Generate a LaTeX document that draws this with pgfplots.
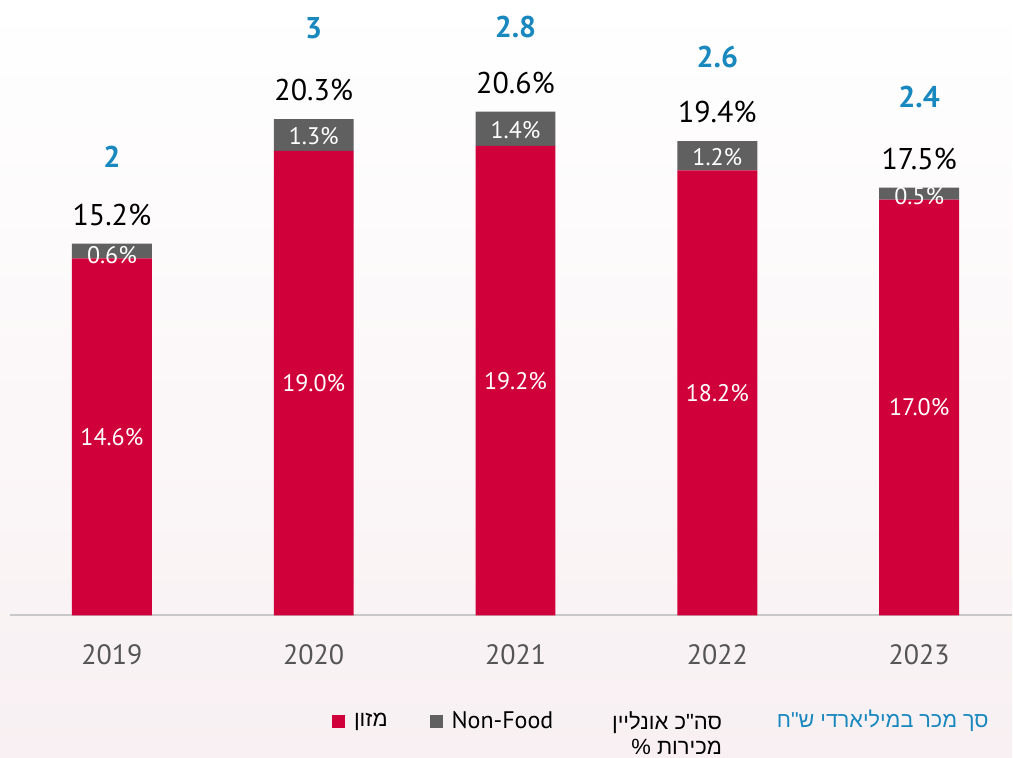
\documentclass[border=0pt]{standalone}
\usepackage{fontspec}
\setmainfont{PT Sans}
\newfontfamily\hebfont[Script=Hebrew]{Liberation Sans}
\usepackage{pgfplots}
\pgfplotsset{compat=1.18}
\TeXXeTstate=1

\definecolor{food}{RGB}{208,0,58}
\definecolor{nonfood}{RGB}{96,96,96}
\definecolor{sales}{RGB}{24,136,190}
\definecolor{ticktext}{RGB}{85,85,85}
\definecolor{baseline}{RGB}{200,200,200}

\tikzset{
  inlbl/.style={text=white, font=\fontsize{12}{15}\selectfont},
  totlbl/.style={text=black, font=\fontsize{15}{18}\selectfont, yshift=14.5pt},
  saleslbl/.style={text=sales, font=\fontsize{15}{18}\selectfont\bfseries},
}

\begin{document}
\begin{tikzpicture}
\shade[top color=white, bottom color={rgb,255:red,248;green,240;blue,242}]
  (0,0) rectangle (506.5pt,379pt);
\begin{axis}[
  at={(5pt,71pt)}, anchor=south west,
  scale only axis,
  width=501.5pt, height=308pt,
  xmin=-0.505, xmax=4.46,
  ymin=0, ymax=25.17,
  ybar stacked, bar width=40pt,
  axis x line=bottom, axis y line=none,
  axis line style={draw=baseline, line width=1pt, -},
  xtick=data, xticklabels={2019,2020,2021,2022,2023},
  major tick length=0pt,
  xticklabel style={font=\fontsize{14}{17}\selectfont, text=ticktext, yshift=-11pt},
  clip=false,
  legend columns=2,
  legend style={at={(0.321,-0.172)}, anchor=west, draw=none, fill=none,
    font=\fontsize{12}{15}\selectfont, inner xsep=0pt,
    /tikz/every odd column/.append style={column sep=2.5pt},
    /tikz/every even column/.append style={column sep=19pt}},
  legend image code/.code={\fill[#1,draw=none] (0pt,-3.3pt) rectangle (6.5pt,3.3pt);},
]
% food share of sales (%)
\addplot[fill=food, draw=none] coordinates {(0,14.6) (1,19.0) (2,19.2) (3,18.2) (4,17.0)};
\addlegendentry{\hebfont\fontsize{11}{14}\selectfont\beginR מזון\endR}
% non-food share of sales (%)
\addplot[fill=nonfood, draw=none] coordinates {(0,0.6) (1,1.3) (2,1.4) (3,1.2) (4,0.5)};
\addlegendentry{Non-Food}

% anchors for the labels inside the bars (drawn after the axis)
\coordinate (f0) at (axis cs:0,7.3);
\coordinate (f1) at (axis cs:1,9.5);
\coordinate (f2) at (axis cs:2,9.6);
\coordinate (f3) at (axis cs:3,9.1);
\coordinate (f4) at (axis cs:4,8.5);
\coordinate (n0) at (axis cs:0,14.75);
\coordinate (n1) at (axis cs:1,19.6);
\coordinate (n2) at (axis cs:2,19.85);
\coordinate (n3) at (axis cs:3,18.75);
\coordinate (n4) at (axis cs:4,17.15);

% totals
\node[totlbl] at (axis cs:0,15.2) {15.2\%};
\node[totlbl] at (axis cs:1,20.3) {20.3\%};
\node[totlbl] at (axis cs:2,20.6) {20.6\%};
\node[totlbl] at (axis cs:3,19.4) {19.4\%};
\node[totlbl] at (axis cs:4,17.5) {17.5\%};
% sales, billion NIS
\node[saleslbl] at (axis cs:0,18.76) {2};
\node[saleslbl] at (axis cs:1,24.03) {3};
\node[saleslbl] at (axis cs:2,24.07) {2.8};
\node[saleslbl] at (axis cs:3,22.84) {2.6};
\node[saleslbl] at (axis cs:4,21.21) {2.4};

% extra legend text
\node[anchor=north east, align=right, font=\hebfont\fontsize{11}{12.5}\selectfont, inner sep=0pt]
  at (rel axis cs:0.711,-0.155) {\beginR סה"כ אונליין\endR\\ \beginR מכירות \%\endR};
\node[anchor=east, font=\hebfont\fontsize{10.8}{14}\selectfont, text=sales, inner sep=0pt]
  at (rel axis cs:0.977,-0.172) {\beginR סך מכר במיליארדי ש"ח\endR};
\end{axis}

\node[inlbl] at (f0) {14.6\%};
\node[inlbl] at (f1) {19.0\%};
\node[inlbl] at (f2) {19.2\%};
\node[inlbl] at (f3) {18.2\%};
\node[inlbl] at (f4) {17.0\%};
\node[inlbl] at (n0) {0.6\%};
\node[inlbl] at (n1) {1.3\%};
\node[inlbl] at (n2) {1.4\%};
\node[inlbl] at (n3) {1.2\%};
\node[inlbl] at (n4) {0.5\%};
\end{tikzpicture}
\end{document}
